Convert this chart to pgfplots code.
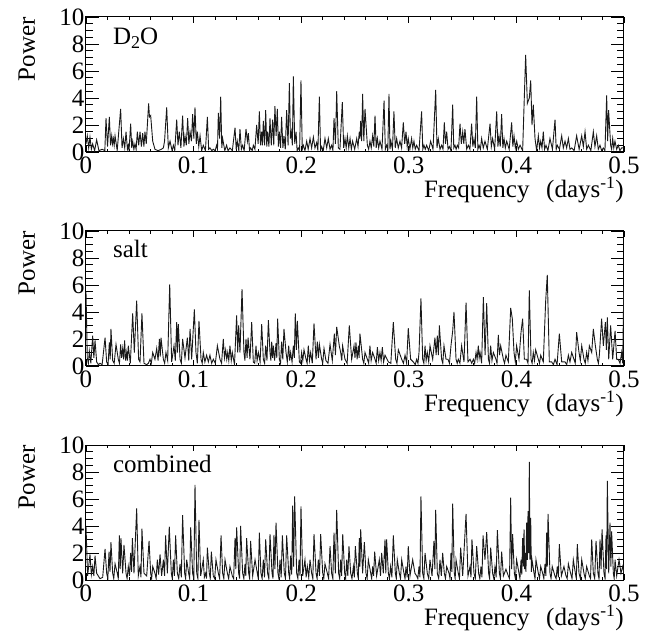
\documentclass[border=0pt]{standalone}
\usepackage{fontspec}
\setmainfont{Liberation Serif}
\usepackage{pgfplots}
\pgfplotsset{compat=1.18}

\pgfplotsset{
  panel/.style={
    scale only axis, width=538pt, height=135pt,
    xmin=0, xmax=0.5, ymin=0, ymax=10,
    xtick={0,0.1,0.2,0.3,0.4,0.5}, minor x tick num=4,
    ytick={0,2,4,6,8,10}, minor y tick num=3,
    tick align=inside, xtick pos=both, ytick pos=both,
    xticklabel pos=lower, yticklabel pos=left,
    axis line style={line width=1pt},
    every tick/.style={black, line width=0.9pt},
    x tick style={/pgfplots/major tick length=6pt, /pgfplots/minor tick length=3pt},
    y tick style={/pgfplots/major tick length=13pt, /pgfplots/minor tick length=7pt},
    /pgf/number format/assume math mode=true,
    tick label style={font=\fontsize{25}{30}\selectfont},
    xticklabel style={inner sep=0pt, yshift=-5pt},
    yticklabel style={inner sep=1.5pt},
    every axis x label/.style={at={(rel axis cs:1,-0.34)}, anchor=base east, inner sep=0pt, font=\fontsize{25}{30}\selectfont},
    every axis y label/.style={at={(rel axis cs:-0.0948,1)}, rotate=90, anchor=base east, inner sep=0pt, font=\fontsize{25}{30}\selectfont},
    xlabel={Frequency\ \ \,(days\textsuperscript{-1})},
    ylabel={Power},
  },
  spec/.style={black!90, line width=0.9pt, sharp plot, mark=none},
}

\begin{document}
\begin{tikzpicture}
\path[use as bounding box] (0,0) rectangle (662pt,-639pt);

% D2O
\begin{axis}[panel, at={(86pt,-17pt)}, anchor=north west]
\addplot[spec] coordinates {
(0.000,0.6)(0.0012,1.2)(0.0025,0.3)(0.0037,1.1)(0.005,0.2)(0.0062,0.6)(0.008,0.1)(0.0099,0.9)
(0.012,0.1)(0.015,0.2)(0.0175,0.1)(0.0186,2.5)(0.020,0.4)(0.0217,2.6)(0.0228,0.5)(0.0239,1.2)
(0.0246,0.6)(0.0254,1.0)(0.0262,0.5)(0.027,1.2)(0.029,0.1)(0.0322,3.2)(0.0335,0.3)(0.0347,1.0)
(0.036,0.3)(0.0372,1.5)(0.0385,0.2)(0.0393,0.5)(0.040,0.1)(0.0415,2.1)(0.0425,0.3)(0.0434,0.8)
(0.0445,0.2)(0.0455,0.6)(0.0466,0.2)(0.0477,1.5)(0.049,0.5)(0.0502,1.5)(0.0515,0.4)(0.0527,1.4)
(0.0538,0.4)(0.0548,1.5)(0.056,0.6)(0.0582,3.6)(0.059,2.6)(0.0601,2.7)(0.062,0.8)(0.0641,0.2)
(0.067,0.1)(0.070,0.2)(0.0719,0.3)(0.073,0.8)(0.075,3.3)(0.0765,0.3)(0.0781,0.8)(0.080,0.1)
(0.0812,0.5)(0.0825,0.1)(0.0843,2.4)(0.0855,0.5)(0.0867,1.5)(0.0882,0.3)(0.0898,2.7)(0.091,0.4)
(0.092,1.2)(0.0932,0.5)(0.0945,2.5)(0.0956,0.6)(0.0967,1.5)(0.098,0.8)(0.0991,2.8)(0.1002,1.0)
(0.1013,3.3)(0.1025,0.6)(0.1035,1.5)(0.1048,0.4)(0.106,1.2)(0.1075,0.1)(0.109,0.5)(0.111,0.1)
(0.1128,2.6)(0.114,0.2)(0.1152,0.3)(0.117,0.1)(0.1183,0.2)(0.120,0.1)(0.1214,0.5)(0.1222,0.2)
(0.123,2.9)(0.1242,1.0)(0.1252,4.1)(0.1262,0.3)(0.127,1.0)(0.129,0.1)(0.1307,0.5)(0.132,0.1)
(0.1338,0.3)(0.136,0.1)(0.1385,1.8)(0.1396,0.2)(0.1406,0.8)(0.142,0.1)(0.1431,1.7)(0.1444,0.2)
(0.1456,0.5)(0.147,0.1)(0.1487,1.7)(0.150,0.8)(0.1509,1.4)(0.152,0.1)(0.153,0.3)(0.1545,0.1)
(0.1555,0.5)(0.157,0.2)(0.1586,2.0)(0.160,0.6)(0.1611,3.0)(0.1622,0.5)(0.1633,1.5)(0.164,0.5)
(0.1648,2.3)(0.166,0.5)(0.167,3.1)(0.168,0.4)(0.1688,1.5)(0.170,0.4)(0.171,2.5)(0.1722,0.5)
(0.1735,2.4)(0.1745,0.5)(0.1756,3.4)(0.1767,1.2)(0.1778,3.2)(0.1788,0.4)(0.1797,1.5)(0.1808,0.3)
(0.1818,2.6)(0.183,0.3)(0.184,1.2)(0.1852,0.2)(0.1865,3.1)(0.1878,0.5)(0.189,5.1)(0.190,1.0)
(0.1908,1.5)(0.1918,0.5)(0.1927,5.6)(0.194,0.6)(0.1952,1.5)(0.1962,0.1)(0.1973,0.3)(0.1985,0.1)
(0.1998,5.3)(0.201,0.2)(0.202,0.5)(0.2035,0.1)(0.2051,0.8)(0.2065,0.2)(0.2082,1.0)(0.2097,0.3)
(0.2113,1.1)(0.2128,0.3)(0.2144,0.7)(0.2155,0.1)(0.2169,4.1)(0.218,0.1)(0.219,0.4)(0.2205,0.1)
(0.2221,1.0)(0.2237,0.3)(0.2252,1.0)(0.2268,0.2)(0.2283,0.5)(0.2295,0.1)(0.2305,2.5)(0.2318,0.6)
(0.233,4.5)(0.2345,0.3)(0.2360,0.2)
(0.2382,3.7)(0.2395,0.3)(0.2407,1.0)(0.2418,0.3)(0.2429,1.2)(0.2442,0.3)(0.2454,1.0)(0.2466,0.2)
(0.2478,0.8)(0.2497,0.2)(0.2516,1.0)(0.2528,0.4)(0.2540,1.5)(0.2546,1.0)(0.2553,2.3)(0.2562,0.8)
(0.2571,4.3)(0.2582,0.8)(0.2593,3.2)(0.2615,0.5)(0.2627,0.2)(0.2639,0.8)(0.2651,0.3)(0.2664,1.2)
(0.2675,0.4)(0.2686,2.7)(0.2697,0.3)(0.2708,1.0)(0.2720,0.3)(0.2732,0.8)(0.2751,0.2)(0.2770,3.8)
(0.2782,0.2)(0.2794,0.5)(0.2805,0.2)(0.2816,4.3)(0.2825,0.2)(0.2834,0.8)(0.2848,0.2)(0.2862,3.0)
(0.2874,0.3)(0.2887,1.0)(0.2902,0.3)(0.2918,0.8)(0.2933,0.3)(0.2949,2.2)(0.2962,0.6)(0.2974,1.5)
(0.2985,0.4)(0.2995,1.0)(0.3010,0.2)(0.3026,1.0)(0.3037,0.3)(0.3048,0.8)(0.3060,0.2)(0.3073,0.5)
(0.3095,0.1)(0.3119,3.0)(0.3130,0.2)(0.3141,0.5)(0.3153,0.2)(0.3166,0.5)(0.3185,0.1)(0.3203,0.8)
(0.3225,0.2)(0.3250,4.6)(0.3262,0.3)(0.3274,1.0)(0.3290,0.2)(0.3305,0.5)(0.3318,0.2)(0.3330,2.2)
(0.3341,0.6)(0.3352,1.5)(0.3365,0.2)(0.3377,0.4)(0.3392,0.1)(0.3408,3.5)(0.3418,0.3)(0.3429,0.5)
(0.3440,0.2)(0.3451,0.5)(0.3463,0.3)(0.3476,2.1)(0.3488,0.6)(0.3501,1.5)(0.3511,0.6)(0.3522,1.7)
(0.3538,0.2)(0.3553,0.5)(0.3568,0.2)(0.3584,2.1)(0.3595,0.4)(0.3606,1.0)(0.3618,0.3)(0.3631,4.1)
(0.3642,0.2)(0.3653,0.5)(0.3665,0.2)(0.3677,1.0)(0.3692,0.3)(0.3708,0.8)(0.3730,0.2)(0.3755,2.1)
(0.3767,0.4)(0.3779,1.0)(0.3798,0.2)(0.3817,3.0)(0.3828,0.4)(0.3838,1.2)(0.3850,0.4)(0.3863,2.8)
(0.3874,0.3)(0.3885,1.0)(0.3897,0.3)(0.3910,0.8)(0.3933,0.2)(0.3956,2.2)(0.3967,0.4)(0.3978,1.2)
(0.3990,0.3)(0.4003,0.8)(0.4018,0.2)(0.4034,0.5)(0.4058,0.1)(0.4086,7.2)(0.4102,3.6)(0.4120,4.0)
(0.4133,5.3)(0.4145,2.0)(0.4157,3.5)(0.4173,1.0)(0.4188,0.1)(0.4204,1.2)(0.4215,0.3)(0.4226,0.8)
(0.4238,0.3)(0.4250,1.5)(0.4262,0.2)(0.4275,0.5)(0.4293,0.1)(0.4312,1.0)(0.4335,0.2)(0.4359,2.4)
(0.4370,0.2)(0.4380,0.5)(0.4400,0.2)(0.4421,1.2)(0.4436,0.3)(0.4452,0.8)(0.4467,0.3)(0.4483,1.0)
(0.4498,0.2)(0.4514,0.3)(0.4537,0.1)(0.4560,1.2)(0.4583,0.2)(0.4607,1.2)(0.4622,0.4)(0.4638,1.5)
(0.4653,0.2)(0.4669,0.5)(0.4692,0.1)(0.4715,1.5)(0.4730,0.4)(0.4746,1.2)(0.4761,0.2)(0.4777,0.5)
(0.4792,0.1)(0.4808,0.3)(0.4823,0.1)(0.4839,4.2)(0.4848,0.8)(0.4857,3.1)(0.4876,0.5)(0.4885,0.2)
(0.4895,1.0)(0.4905,0.3)(0.4916,0.8)(0.4932,0.2)(0.4947,0.5)(0.4962,0.1)(0.4978,0.3)(0.5,0.3)
};
\node[anchor=base west, inner sep=0pt, font=\fontsize{25}{30}\selectfont] at (rel axis cs:0.05,0.793) {D\raisebox{-0.35ex}{\fontsize{18}{20}\selectfont 2}O};
\end{axis}

% salt
\begin{axis}[panel, at={(86pt,-231pt)}, anchor=north west]
\addplot[spec] coordinates {
(0.0,5.5)(0.0012,0.6)(0.0022,0.2)(0.0031,1.1)(0.0045,0.2)(0.0062,2.25)(0.0073,0.6)(0.0084,1.9)
(0.0099,0.3)(0.0115,0.1)(0.0130,0.2)(0.0150,0.1)(0.0177,2.1)(0.0192,0.3)(0.0205,0.1)(0.0217,1.75)
(0.0225,0.5)(0.0232,2.75)(0.0248,0.4)(0.0262,0.2)(0.0279,1.6)(0.0300,0.5)(0.0311,0.2)(0.0322,1.6)
(0.0331,0.6)(0.0341,1.3)(0.0350,0.5)(0.0359,1.9)(0.0368,0.4)(0.0378,1.0)(0.0385,0.4)(0.0393,1.5)
(0.0412,0.2)(0.0434,3.9)(0.0449,1.0)(0.0471,4.85)(0.0489,0.5)(0.0502,0.3)(0.0520,3.9)(0.0539,0.2)
(0.0564,0.1)(0.0580,0.2)(0.0595,0.5)(0.0607,0.2)(0.0620,1.0)(0.0641,0.5)(0.0657,1.3)(0.0670,0.4)
(0.0682,2.0)(0.0690,0.7)(0.0697,2.1)(0.0719,0.5)(0.0731,0.2)(0.0743,1.0)(0.0759,0.4)(0.0778,6.05)
(0.0796,0.3)(0.0818,1.5)(0.0830,0.4)(0.0843,3.25)(0.0850,1.0)(0.0858,3.1)(0.0874,0.5)(0.0886,0.2)
(0.0898,2.0)(0.0920,0.6)(0.0942,2.1)(0.0955,0.4)(0.0967,2.75)(0.0982,0.5)(0.1007,4.2)(0.1022,1.0)
(0.1035,0.2)(0.1050,3.35)(0.1069,0.5)(0.1080,0.2)(0.1090,1.0)(0.1105,0.3)(0.1121,0.8)(0.1137,0.3)
(0.1152,0.8)(0.1168,0.2)(0.1183,0.5)(0.1202,0.2)(0.1221,1.5)(0.1245,0.5)(0.1260,0.2)(0.1276,2.0)
(0.1287,0.6)(0.1298,1.2)(0.1308,0.5)(0.1317,1.0)(0.1327,0.4)(0.1338,1.5)(0.1350,0.4)(0.1360,1.0)
(0.1380,0.1)(0.1400,3.75)(0.1410,1.0)(0.1419,3.0)(0.1431,1.0)(0.1450,5.7)(0.1468,1.0)(0.1477,0.4)
(0.1487,2.0)(0.1497,0.6)(0.1506,2.1)(0.1524,0.5)(0.1540,3.25)(0.1555,0.3)(0.1568,0.2)(0.1580,1.5)
(0.1590,0.4)(0.1602,1.0)(0.1618,0.3)(0.1633,3.1)(0.1648,0.5)(0.1660,0.2)(0.1670,1.5)(0.1682,0.4)
(0.1695,3.4)(0.1710,1.0)(0.1718,0.4)(0.1726,1.8)(0.1734,0.6)(0.1741,1.5)(0.1753,0.4)(0.1766,1.7)
(0.1773,0.6)(0.1781,3.5)(0.1797,0.5)(0.1808,0.2)(0.1818,1.8)(0.1829,0.5)(0.1840,2.75)(0.1859,1.0)
(0.1871,0.3)(0.1884,1.5)(0.1893,0.4)(0.1902,1.0)(0.1915,0.3)(0.1927,1.5)(0.1936,0.6)(0.1945,3.9)
(0.1955,1.2)(0.1964,3.35)(0.1983,0.3)(0.1994,0.2)(0.2004,1.0)(0.2015,0.4)(0.2026,1.2)(0.2045,0.5)
(0.2055,0.2)(0.2066,1.5)(0.2077,0.4)(0.2088,1.0)(0.2103,0.2)(0.2119,3.15)(0.2138,0.5)(0.2150,1.8)
(0.2160,0.6)(0.2169,1.6)(0.2190,0.5)(0.2200,0.2)(0.2212,1.3)(0.2230,0.4)(0.2249,0.2)(0.2268,1.6)
(0.2289,0.4)(0.2308,2.4)(0.2318,0.8)(0.2330,2.9)(0.2354,1.5)(0.2367,1.0)(0.2377,0.4)(0.2385,1.5)
(0.2407,0.5)(0.2427,0.2)(0.2447,3.0)(0.2469,0.5)(0.2491,1.5)(0.2500,0.6)(0.2509,1.75)(0.2520,0.5)
(0.2531,1.5)(0.2538,0.6)(0.2546,2.4)(0.2571,0.5)(0.2582,0.2)(0.2593,1.0)(0.2615,0.5)(0.2627,0.2)
(0.2639,1.5)(0.2650,0.4)(0.2664,1.0)(0.2686,0.5)(0.2697,0.2)(0.2708,1.4)(0.2720,0.4)(0.2732,1.0)
(0.2743,0.4)(0.2754,1.4)(0.2766,0.3)(0.2779,0.8)(0.2810,0.3)(0.2833,0.2)(0.2856,3.25)(0.2878,0.5)
(0.2890,0.2)(0.2903,1.2)(0.2934,0.5)(0.2950,0.2)(0.2965,0.8)(0.2980,0.2)(0.2995,2.8)(0.3017,0.5)
(0.3042,0.3)(0.3060,0.1)(0.3073,0.5)(0.3085,0.2)(0.3095,1.0)(0.3113,5.0)(0.3129,0.5)(0.3140,0.2)
(0.3151,1.5)(0.3161,0.4)(0.3172,1.0)(0.3185,0.3)(0.3197,1.5)(0.3222,0.5)(0.3243,2.1)(0.3254,0.8)
(0.3265,2.25)(0.3275,0.8)(0.3284,3.0)(0.3305,0.5)(0.3316,0.2)(0.3327,1.5)(0.3346,0.5)(0.3364,0.5)
(0.3378,0.2)(0.3392,1.5)(0.3408,2.6)(0.3420,4.0)(0.3439,0.5)(0.3450,0.2)(0.3460,0.5)(0.3475,0.2)
(0.3491,1.5)(0.3513,0.3)(0.3532,4.7)(0.3550,0.3)(0.3569,0.5)(0.3585,0.2)(0.3600,0.5)(0.3612,0.2)
(0.3625,1.0)(0.3635,0.5)(0.3646,1.5)(0.3654,0.6)(0.3662,1.0)(0.3677,0.2)(0.3693,5.1)(0.3709,0.8)
(0.3724,4.65)(0.3740,0.5)(0.3750,0.2)(0.3761,1.5)(0.3773,0.4)(0.3786,1.0)(0.3810,0.5)(0.3820,0.2)
(0.3832,2.3)(0.3843,0.8)(0.3854,1.5)(0.3879,0.5)(0.3890,0.2)(0.3903,0.8)(0.3925,0.3)(0.3947,4.3)
(0.3962,3.5)(0.3978,1.0)(0.3990,0.3)(0.4002,1.5)(0.4024,0.5)(0.4043,2.5)(0.4058,3.5)(0.4074,0.5)
(0.4095,0.5)(0.4108,0.2)(0.4120,5.6)(0.4136,0.5)(0.4146,0.2)(0.4157,1.0)(0.4168,0.4)(0.4179,1.2)
(0.4204,0.5)(0.4215,0.2)(0.4226,0.8)(0.4250,0.3)(0.4272,4.8)(0.4287,6.75)(0.4306,0.3)(0.4328,0.3)
(0.4344,0.1)(0.4359,0.5)(0.4378,0.1)(0.4399,2.4)(0.4421,0.3)(0.4452,0.3)(0.4468,0.1)(0.4483,0.8)
(0.4498,0.3)(0.4514,1.0)(0.4535,0.5)(0.4547,0.2)(0.4560,2.5)(0.4582,1.0)(0.4594,0.4)(0.4607,1.5)
(0.4628,0.5)(0.4640,0.2)(0.4653,1.0)(0.4665,0.4)(0.4678,1.5)(0.4700,1.0)(0.4715,2.75)(0.4734,1.5)
(0.4752,0.5)(0.4762,0.2)(0.4771,0.8)(0.4792,3.5)(0.4808,1.5)(0.4827,3.25)(0.4836,1.2)(0.4845,3.6)
(0.4858,0.5)(0.4876,3.0)(0.4895,0.5)(0.4917,2.6)(0.4932,0.5)(0.4947,0.5)(0.4963,0.2)(0.4978,1.0)
(0.4988,0.2)(0.4998,5.85)
};
\node[anchor=base west, inner sep=0pt, font=\fontsize{25}{30}\selectfont] at (rel axis cs:0.05,0.80) {salt};
\end{axis}

% combined
\begin{axis}[panel, at={(86pt,-445pt)}, anchor=north west]
\addplot[spec] coordinates {
(0.0,4.0)(0.0015,0.3)(0.0037,1.9)(0.0050,0.4)(0.0062,1.0)(0.0073,0.3)(0.0084,1.8)(0.0099,0.5)
(0.0130,0.1)(0.0155,0.2)(0.0177,2.3)(0.0192,0.5)(0.0203,0.1)(0.0214,2.1)(0.0223,0.6)(0.0232,2.8)
(0.0248,0.5)(0.0258,0.1)(0.0270,1.2)(0.0291,0.5)(0.0300,0.1)(0.0310,3.3)(0.0318,0.8)(0.0325,3.1)
(0.0341,0.5)(0.0353,2.6)(0.0372,0.5)(0.0382,0.1)(0.0393,1.0)(0.0404,0.3)(0.0415,2.0)(0.0423,0.6)
(0.0431,3.1)(0.0446,0.5)(0.0471,5.3)(0.0486,0.3)(0.0502,1.0)(0.0511,0.2)(0.0520,3.8)(0.0539,0.5)
(0.0564,0.3)(0.0586,2.9)(0.0601,0.5)(0.0610,0.1)(0.0620,1.0)(0.0641,0.5)(0.0652,0.1)(0.0663,1.5)
(0.0675,0.4)(0.0688,1.9)(0.0703,0.3)(0.0719,1.5)(0.0730,0.3)(0.0740,3.3)(0.0756,0.5)(0.0774,3.95)
(0.0793,0.5)(0.0802,0.1)(0.0812,1.5)(0.0822,0.3)(0.0833,3.3)(0.0849,0.5)(0.0862,0.1)(0.0874,1.2)
(0.0886,0.2)(0.0898,4.8)(0.0917,0.5)(0.0926,0.1)(0.0936,1.5)(0.0954,0.5)(0.0964,0.1)(0.0973,3.9)
(0.0991,0.5)(0.1002,0.1)(0.1013,7.05)(0.1029,0.5)(0.1040,0.1)(0.1050,4.45)(0.1066,0.3)(0.1090,1.5)
(0.1100,0.2)(0.1112,0.5)(0.1120,0.1)(0.1128,2.4)(0.1146,0.5)(0.1155,0.1)(0.1165,2.1)(0.1183,0.3)
(0.1196,0.1)(0.1208,1.5)(0.1230,0.5)(0.1242,0.1)(0.1255,3.3)(0.1270,0.5)(0.1281,0.1)(0.1292,1.5)
(0.1314,0.5)(0.1326,0.1)(0.1338,1.0)(0.1360,0.3)(0.1372,0.1)(0.1385,3.1)(0.1392,0.8)(0.1400,3.9)
(0.1419,0.5)(0.1428,0.1)(0.1437,4.0)(0.1456,0.5)(0.1467,0.1)(0.1478,1.2)(0.1485,0.3)(0.1493,3.1)
(0.1512,0.5)(0.1521,0.1)(0.1530,2.9)(0.1549,0.3)(0.1571,1.5)(0.1592,0.5)(0.1601,0.1)(0.1611,3.5)
(0.1626,0.5)(0.1637,0.1)(0.1648,1.5)(0.1659,0.2)(0.1670,3.0)(0.1688,0.5)(0.1699,0.1)(0.1710,3.4)
(0.1729,0.5)(0.1738,0.1)(0.1747,3.35)(0.1756,0.8)(0.1766,4.25)(0.1784,0.5)(0.1793,0.1)(0.1803,1.5)
(0.1814,0.2)(0.1825,3.3)(0.1843,0.5)(0.1854,0.1)(0.1865,3.3)(0.1884,0.5)(0.1893,0.1)(0.1902,1.8)
(0.1912,0.4)(0.1921,5.5)(0.1930,1.0)(0.1939,6.2)(0.1958,0.5)(0.1969,0.1)(0.1980,1.5)(0.1989,0.3)
(0.1998,5.45)(0.2014,0.3)(0.2035,1.5)(0.2046,0.2)(0.2057,1.0)(0.2070,0.2)(0.2082,1.5)(0.2097,0.5)
(0.2108,0.1)(0.2119,3.4)(0.2138,0.5)(0.2148,0.1)(0.2159,1.5)(0.2170,0.3)(0.2181,3.4)(0.2200,0.5)
(0.2210,0.1)(0.2221,1.2)(0.2243,0.5)(0.2255,0.1)(0.2268,2.5)(0.2283,0.5)(0.2294,0.1)(0.2305,3.5)
(0.2317,0.5)(0.2330,5.2)(0.2348,0.5)(0.2358,0.1)(0.2367,1.5)(0.2376,0.3)(0.2386,3.4)(0.2404,0.5)
(0.2413,0.1)(0.2423,1.5)(0.2433,0.3)(0.2444,2.5)(0.2460,0.5)(0.2472,0.1)(0.2485,1.0)(0.2494,0.2)
(0.2503,2.5)(0.2522,0.5)(0.2531,0.1)(0.2540,3.1)(0.2546,1.0)(0.2553,3.75)(0.2571,0.5)(0.2587,2.8)
(0.2602,0.5)(0.2613,0.1)(0.2624,1.5)(0.2646,0.5)(0.2655,0.1)(0.2664,1.0)(0.2673,0.3)(0.2683,2.1)
(0.2701,0.3)(0.2726,1.5)(0.2737,0.3)(0.2748,2.0)(0.2763,0.5)(0.2779,3.0)(0.2786,0.5)(0.2794,3.0)
(0.2810,0.5)(0.2820,0.1)(0.2831,1.0)(0.2843,0.2)(0.2856,3.3)(0.2875,0.5)(0.2884,0.1)(0.2893,1.5)
(0.2912,0.5)(0.2923,0.1)(0.2934,1.5)(0.2955,0.5)(0.2965,0.1)(0.2974,1.0)(0.2985,0.2)(0.2995,2.5)
(0.3011,0.3)(0.3036,1.5)(0.3057,0.5)(0.3073,0.3)(0.3084,0.1)(0.3095,1.0)(0.3104,0.2)(0.3113,6.2)
(0.3129,0.5)(0.3140,0.1)(0.3151,2.0)(0.3172,0.5)(0.3185,0.1)(0.3197,1.5)(0.3216,0.3)(0.3234,2.9)
(0.3242,0.8)(0.3250,5.2)(0.3265,0.5)(0.3278,0.1)(0.3290,1.5)(0.3302,0.3)(0.3315,2.0)(0.3330,0.5)
(0.3341,0.1)(0.3352,1.0)(0.3374,0.5)(0.3383,0.1)(0.3392,2.0)(0.3400,0.6)(0.3408,5.65)(0.3423,0.5)
(0.3431,0.1)(0.3439,1.5)(0.3460,0.5)(0.3471,0.1)(0.3482,2.4)(0.3501,0.3)(0.3532,4.9)(0.3550,0.3)
(0.3569,1.0)(0.3578,0.2)(0.3587,3.0)(0.3606,0.5)(0.3618,0.1)(0.3631,2.5)(0.3649,0.5)(0.3660,0.1)
(0.3671,1.0)(0.3680,0.2)(0.3690,3.3)(0.3708,1.5)(0.3724,3.55)(0.3742,0.5)(0.3751,0.1)(0.3761,2.4)
(0.3779,0.5)(0.3790,0.1)(0.3801,1.0)(0.3812,0.2)(0.3823,3.7)(0.3842,0.5)(0.3852,0.1)(0.3863,2.1)
(0.3879,0.3)(0.3903,0.8)(0.3925,0.3)(0.3936,0.1)(0.3947,6.1)(0.3956,0.8)(0.3965,3.4)(0.3981,0.5)
(0.3991,0.1)(0.4002,1.5)(0.4024,0.5)(0.4033,0.1)(0.4043,1.5)(0.4050,0.4)(0.4058,3.1)(0.4064,1.0)
(0.4071,3.75)(0.4077,0.8)(0.4083,2.0)(0.4089,0.6)(0.4095,4.25)(0.4102,1.5)(0.4108,5.1)(0.4114,2.0)
(0.4120,8.75)(0.4126,1.5)(0.4133,4.6)(0.4139,0.6)(0.4145,1.5)(0.4164,0.5)(0.4173,0.1)(0.4182,1.5)
(0.4204,0.5)(0.4215,0.1)(0.4226,1.0)(0.4244,0.5)(0.4255,0.1)(0.4266,1.2)(0.4274,0.3)(0.4281,3.5)
(0.4287,1.0)(0.4294,4.9)(0.4312,0.5)(0.4322,0.1)(0.4333,1.0)(0.4358,0.3)(0.4369,0.1)(0.4380,1.0)
(0.4390,0.2)(0.4399,2.65)(0.4418,0.3)(0.4442,1.0)(0.4461,0.3)(0.4472,0.1)(0.4483,1.2)(0.4504,0.5)
(0.4517,0.1)(0.4529,1.5)(0.4548,0.5)(0.4557,0.1)(0.4566,2.65)(0.4582,0.5)(0.4595,0.1)(0.4607,1.5)
(0.4628,0.5)(0.4640,0.1)(0.4653,1.0)(0.4678,0.3)(0.4689,0.1)(0.4700,3.0)(0.4715,0.5)(0.4728,0.1)
(0.4740,2.9)(0.4758,0.5)(0.4768,0.1)(0.4777,3.0)(0.4787,0.8)(0.4796,3.75)(0.4814,0.5)(0.4824,0.1)
(0.4833,3.3)(0.4839,0.8)(0.4845,7.35)(0.4858,0.5)(0.4870,4.25)(0.4878,1.0)(0.4885,3.6)(0.4901,0.5)
(0.4909,0.1)(0.4917,1.5)(0.4932,0.3)(0.4954,1.5)(0.4972,0.5)(0.4988,1.0)(0.5,0.5)
};
\node[anchor=base west, inner sep=0pt, font=\fontsize{25}{30}\selectfont] at (rel axis cs:0.05,0.80) {combined};
\end{axis}
\end{tikzpicture}
\end{document}
